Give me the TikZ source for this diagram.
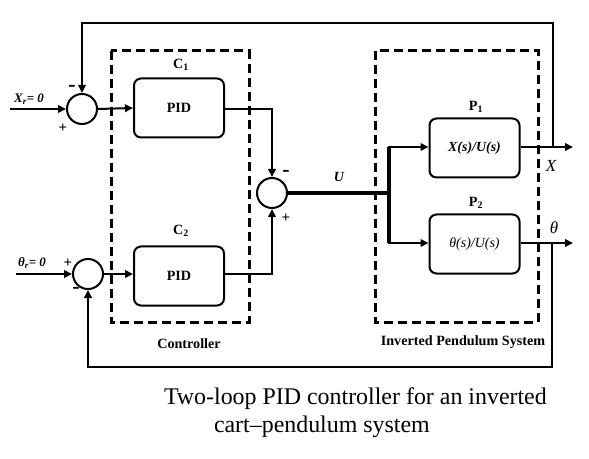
\documentclass[tikz,border=0pt]{standalone}
\usepackage{fontspec}
\setmainfont{Liberation Serif}
\usetikzlibrary{arrows.meta}
\begin{document}
\begin{tikzpicture}[x=1bp,y=-1bp,
  line width=2bp,
  arr/.style={-{Triangle[length=8bp,width=7.5bp]}},
  sumnode/.style={circle,draw,line width=2bp,minimum size=30bp,inner sep=0pt},
  blk/.style={draw,rounded corners=7bp,line width=2bp,minimum width=90bp,minimum height=59bp,inner sep=0pt},
  grp/.style={draw,line width=3bp,dash pattern=on 9bp off 5bp},
  lbl/.style={font=\fontsize{14.2}{15}\selectfont\bfseries,inner sep=0pt},
  sgn/.style={font=\fontsize{15}{16}\selectfont\bfseries,inner sep=0pt},
  mns/.style={font=\fontsize{22}{22}\selectfont\bfseries,inner sep=0pt},
  captxt/.style={font=\fontsize{24}{26}\selectfont,inner sep=0pt,anchor=base west}
]
\useasboundingbox (0,0) rectangle (589,459);
% group boxes
\draw[grp] (111,51) rectangle (249,322);
\draw[grp] (375,51) rectangle (538,322);
% nodes
\node[sumnode] (s1) at (82,109) {};
\node[sumnode] (s2) at (272,193) {};
\node[sumnode] (s3) at (88,274) {};
\node[blk,lbl] (pid1) at (179,108) {PID};
\node[blk,lbl] (pid2) at (179,276) {PID};
\node[blk,font=\fontsize{14}{15}\selectfont\bfseries\itshape] (p1) at (474.5,148) {X(s)/U(s)};
\node[blk,font=\fontsize{14}{15}\selectfont\itshape] (p2) at (474.5,244) {θ(s)/U(s)};
% coordinates
\coordinate (xr) at (10,109);
\coordinate (tr) at (16,274);
\coordinate (sp) at (389,193);
\coordinate (xo) at (573,147);
\coordinate (to) at (573,243);
\coordinate (xt) at (553,147);
\coordinate (tt) at (552,243);
% connectors
\draw[arr] (xr) -- (s1.west);
\draw[arr] (s1.east) -- (pid1.west);
\draw[arr] (pid1.east |- s1.east) -| (s2.north);
\draw[arr] (tr) -- (s3.west);
\draw[arr] (s3.east) -- (pid2.west |- s3.east);
\draw[arr] (pid2.east |- s3.east) -| (s2.south);
\draw[line width=3.2bp] (s2.east) -- (sp);
\draw[arr] (sp) |- (p1.west |- xo);
\draw[arr] (sp) |- (p2.west |- to);
\draw[line width=3.2bp] (sp |- xo) -- (sp |- to);
\draw[arr] (p1.east |- xo) -- (xo);
\draw[arr] (p2.east |- to) -- (to);
\draw[arr,line width=1.7bp] (xt) -- (xt |- 0,23) -| (s1.north);
\draw[arr] (tt) -- (tt |- 0,367) -| (s3.south);
% labels
\node[lbl] (c1) at (181,65) {C\textsubscript{1}};
\node[lbl] (c2) at (181,231) {C\textsubscript{2}};
\node[lbl] (pl1) at (476,107) {P\textsubscript{1}};
\node[lbl] (pl2) at (476,203) {P\textsubscript{2}};
\node[lbl] (ctl) at (189,344) {Controller};
\node[lbl] (ips) at (463,342) {Inverted Pendulum System};
\node[lbl,font=\fontsize{14}{15}\selectfont\bfseries\itshape] (ul) at (339,177) {U};
\node[inner sep=0pt,font=\fontsize{17}{18}\selectfont\itshape] (xl) at (551,166) {X};
\node[inner sep=0pt,font=\fontsize{17}{18}\selectfont\itshape] (tl) at (554,228) {θ};
\node[lbl,font=\fontsize{13}{14}\selectfont\bfseries\itshape] (xrl) at (29,99) {X\textsubscript{r}= 0};
\node[lbl,font=\fontsize{13}{14}\selectfont\bfseries\itshape] (trl) at (32,263) {θ\textsubscript{r}= 0};
\node[mns] (m1) at (72,88) {-};
\node[sgn] (p1s) at (63,128) {+};
\node[mns] (m2) at (286,173) {-};
\node[sgn] (p2s) at (286,218) {+};
\node[sgn] (p3s) at (68,263) {+};
\node[mns] (m3) at (76,290) {-};
% caption
\node[captxt] (cap1) at (163,404) {Two-loop PID controller for an inverted};
\node[captxt] (cap2) at (213,432) {cart–pendulum system};
\end{tikzpicture}
\end{document}
